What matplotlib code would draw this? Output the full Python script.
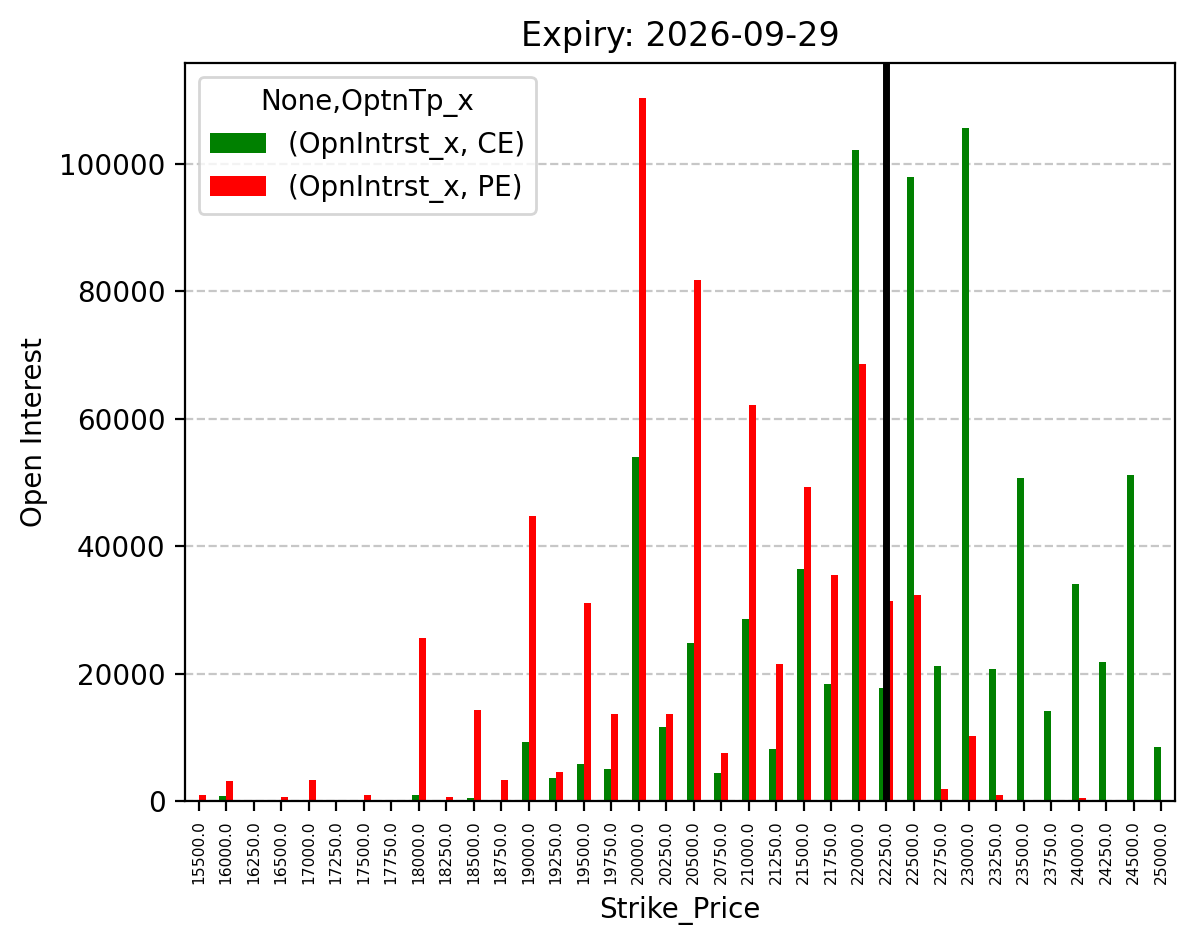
import matplotlib
matplotlib.use("Agg")
import matplotlib.pyplot as plt
import numpy as np

strikes = [15500, 16000, 16250, 16500, 17000, 17250, 17500, 17750, 18000, 18250,
           18500, 18750, 19000, 19250, 19500, 19750, 20000, 20250, 20500, 20750,
           21000, 21250, 21500, 21750, 22000, 22250, 22500, 22750, 23000, 23250,
           23500, 23750, 24000, 24250, 24500, 25000]
ce_oi = [0, 800, 200, 0, 0, 0, 0, 0, 1000, 0,
         500, 200, 9300, 3650, 5850, 5050, 53950, 11600, 24750, 4400,
         28500, 8200, 36450, 18300, 102150, 17700, 97900, 21150, 105600, 20700,
         50750, 14150, 34130, 21800, 51200, 8500]
pe_oi = [1000, 3200, 0, 700, 3300, 200, 1000, 0, 25600, 700,
         14300, 3300, 44780, 4600, 31050, 13650, 110300, 13650, 81780, 7550,
         62180, 21450, 49300, 35500, 68620, 31440, 32280, 1900, 10200, 1000,
         0, 0, 400, 0, 0, 0]
atm_strike = 22250

fig = plt.figure(figsize=(5.98, 4.75), dpi=200)
ax = fig.add_axes([0.1547, 0.1568, 0.8277, 0.7769])
x = np.arange(len(strikes))
w = 0.25
ax.bar(x - w / 2, ce_oi, width=w, color="green", label="(OpnIntrst_x, CE)")
ax.bar(x + w / 2, pe_oi, width=w, color="red", label="(OpnIntrst_x, PE)")
ax.set_xticks(x)
ax.set_xticklabels([f"{float(s):.1f}" for s in strikes], rotation=90, fontsize=5.6)
ax.set_xlim(-0.5, len(strikes) - 0.5)
ax.axvline(strikes.index(atm_strike), color="black", linewidth=2.5)
ax.grid(axis="y", linestyle="--", alpha=0.7)
ax.set_axisbelow(True)
ax.set_title("Expiry: 2026-09-29")
ax.set_xlabel("Strike_Price")
ax.set_ylabel("Open Interest")
ax.legend(title="None,OptnTp_x", loc="upper left")
fig.savefig("out.png", dpi=200)
